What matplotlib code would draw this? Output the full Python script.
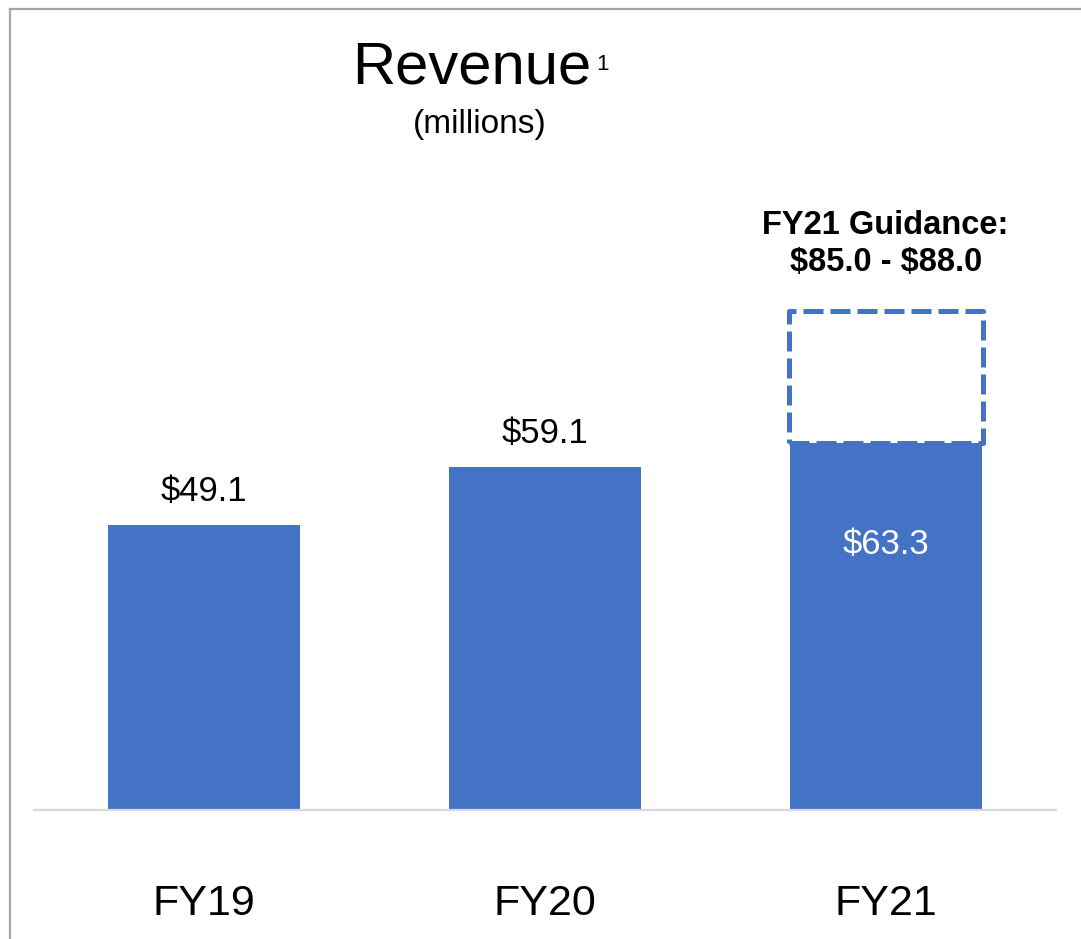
import matplotlib
matplotlib.use("Agg")
import matplotlib.pyplot as plt
from matplotlib.lines import Line2D

plt.rcParams['font.family'] = ['Liberation Sans', 'DejaVu Sans']

# data
years = ["FY19", "FY20", "FY21"]
revenue = [49.1, 59.1, 63.3]
value_labels = ["\\$49.1", "\\$59.1", "\\$63.3"]
guidance_low = 85.0
guidance_high = 88.0
guidance_box_top = 86.0   # where the dashed box is drawn to in the picture

blue = "#4472C4"

fig = plt.figure(figsize=(10.81, 9.39), dpi=100)
ax = fig.add_axes([34 / 1081, 129 / 939, 1022 / 1081, 580 / 939])

x = list(range(len(years)))
ax.bar(x, revenue, width=0.563, color=blue, zorder=2)

# dashed guidance box on top of FY21
ax.bar(x[2], guidance_box_top - revenue[2], bottom=revenue[2], width=0.57,
       fill=False, edgecolor=blue, linewidth=3.6, linestyle=(0, (4, 1.4)),
       joinstyle='round', zorder=3)

ax.set_xlim(-0.5, 2.5)
ax.set_ylim(0, 100)

for i in range(2):
    ax.annotate(value_labels[i], (x[i], revenue[i]), xytext=(0, 24),
                textcoords='offset points', ha='center', va='center',
                fontsize=25, color='black')
ax.text(x[2], revenue[2] - 17.5, value_labels[2], ha='center', va='center',
        fontsize=25, color='white')

guide_txt = "FY21 Guidance:\n\\${:.1f} - \\${:.1f}".format(guidance_low, guidance_high)
ax.text(x[2], guidance_high + 9.6, guide_txt,
        ha='center', va='center', fontsize=23.5, fontweight='bold',
        linespacing=1.25)

ax.set_xticks(x)
ax.set_xticklabels(years, fontsize=31)
ax.tick_params(axis='x', length=0, pad=53)
ax.set_yticks([])
for s in ['top', 'right', 'left']:
    ax.spines[s].set_visible(False)
ax.spines['bottom'].set_color('#D9D9D9')
ax.spines['bottom'].set_linewidth(1.6)

# title
fig.text(472 / 1081, 1 - 68 / 939, "Revenue", ha='center', va='center', fontsize=43)
fig.text(596 / 1081, 1 - 64 / 939, "1", ha='left', va='center', fontsize=16)
fig.text(480 / 1081, 1 - 125 / 939, "(millions)", ha='center', va='center', fontsize=24)

# gray frame on left and top
fig.add_artist(Line2D([10 / 1081, 10 / 1081], [0, 1 - 9 / 939], color='#A6A6A6', lw=1.6))
fig.add_artist(Line2D([10 / 1081, 1], [1 - 9 / 939, 1 - 9 / 939], color='#A6A6A6', lw=1.6))

fig.savefig("out.png", dpi=100)
